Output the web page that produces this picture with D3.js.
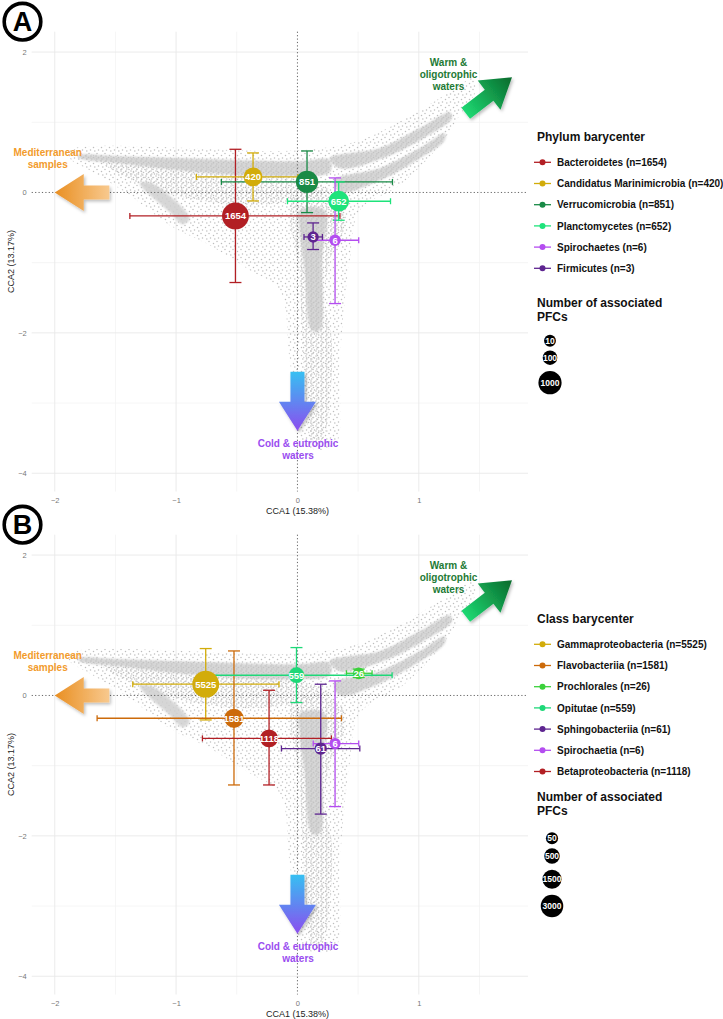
<!DOCTYPE html>
<html><head><meta charset="utf-8">
<script src="https://cdn.jsdelivr.net/npm/d3@7"></script>
<style>
body{margin:0;background:#fff}
svg{display:block;font-family:"Liberation Sans",Arial,Helvetica,sans-serif}
</style>
</head><body>
<svg id="chart" width="723" height="1019"></svg>
<script>
// ---------------- DATA ----------------
const xTicks = [-2, -1, 0, 1];
const xMinor = [-1.5, -0.5, 0.5, 1.5];
const yTicks = [2, 0, -2, -4];
const yMinor = [1, -1, -3];

// Panel A: phylum barycenters
const phylaNames  = ["Bacteroidetes", "Candidatus Marinimicrobia", "Verrucomicrobia", "Planctomycetes", "Spirochaetes", "Firmicutes"];
const phylaCounts = [1654, 420, 851, 652, 6, 3];
const phylaX      = [-0.511, -0.366, 0.079, 0.340, 0.310, 0.129];
const phylaY      = [-0.335, 0.221, 0.150, -0.125, -0.681, -0.634];
const phylaXLow   = [-1.381, -0.833, -0.627, -0.082, 0.130, 0.054];
const phylaXHigh  = [0.350, 0.005, 0.783, 0.767, 0.505, 0.206];
const phylaYLow   = [-1.283, -0.121, -0.287, -0.396, -1.583, -0.813];
const phylaYHigh  = [0.615, 0.563, 0.591, 0.150, 0.207, -0.434];
const phylaColors = ["#B21F24", "#D2AC0A", "#198A46", "#1EE37B", "#B44DF0", "#5E2590"];
const phylaSizeBreaks = [10, 100, 1000];

// Panel B: class barycenters
const classNames  = ["Gammaproteobacteria", "Flavobacteriia", "Prochlorales", "Opitutae", "Sphingobacteriia", "Spirochaetia", "Betaproteobacteria"];
const classCounts = [5525, 1581, 26, 559, 61, 6, 1118];
const classX      = [-0.756, -0.523, 0.505, -0.008, 0.192, 0.310, -0.234];
const classY      = [0.160, -0.325, 0.316, 0.288, -0.757, -0.685, -0.611];
const classXLow   = [-1.357, -1.651, 0.404, -0.720, -0.132, 0.130, -0.783];
const classXHigh  = [-0.152, 0.363, 0.615, 0.780, 0.514, 0.505, 0.280];
const classYLow   = [-0.349, -1.275, 0.255, -0.101, -1.690, -1.583, -1.275];
const classYHigh  = [0.668, 0.634, 0.376, 0.682, 0.160, 0.207, 0.074];
const classColors = ["#D2AC0A", "#CC6A0A", "#3BD13B", "#1ED878", "#5E2590", "#B44DF0", "#B21F24"];
const classSizeBreaks = [50, 500, 1500, 3000];

// Sample cloud outlines (CCA1, CCA2)
const cloudSparse = [[-1.877,0.601],[0.019,0.601],[0.514,0.744],[1.008,1.171],[1.338,1.527],[1.437,1.627],[1.470,1.456],[1.338,1.100],[1.173,0.672],[0.843,0.103],[0.514,-0.254],[0.431,-0.966],[0.390,-1.536],[0.349,-2.390],[0.308,-3.601],[0.060,-3.601],[-0.063,-2.390],[-0.146,-1.393],[-0.393,-1.108],[-0.723,-0.752],[-1.053,-0.467],[-1.382,-0.040],[-1.712,0.316],[-1.877,0.487]];
const cloudMidLeft = [[-1.630,0.459],[-0.805,0.316],[0.019,0.202],[0.266,0.031],[0.019,-0.111],[-0.476,-0.182],[-0.805,-0.111],[-1.218,0.060],[-1.547,0.345]];
const cloudColumn = [[-0.022,-0.040],[0.349,-0.111],[0.390,-0.467],[0.266,-0.966],[0.225,-1.536],[0.283,-2.105],[0.266,-2.960],[0.200,-3.530],[0.118,-3.530],[0.060,-2.675],[0.035,-1.820],[0.002,-0.966],[-0.063,-0.396]];
const cloudUpperBand = [[-1.811,0.530],[-1.465,0.516],[-0.970,0.487],[-0.476,0.459],[0.019,0.444],[0.266,0.459],[0.266,0.288],[-0.063,0.231],[-0.476,0.245],[-0.970,0.316],[-1.465,0.416],[-1.794,0.487]];
const cloudRightBand1 = [[0.266,0.487],[0.679,0.630],[1.008,0.915],[1.256,1.142],[1.272,1.057],[1.049,0.786],[0.720,0.501],[0.349,0.345]];
const cloudRightBand2 = [[0.307,0.174],[0.679,0.345],[1.008,0.630],[1.214,0.843],[1.214,0.744],[1.008,0.487],[0.679,0.174],[0.349,0.003]];
const cloudSpike = [[-1.300,0.131],[-1.201,0.131],[-0.888,-0.368],[-0.945,-0.453],[-1.052,-0.282]];
const cloudCore = [[0.019,-0.254],[0.225,-0.254],[0.200,-0.966],[0.184,-1.963],[0.118,-1.963],[0.060,-1.108],[0.019,-0.538]];

// Annotation arrows: [tailX, tailY, tipX, tipY] in data units, and label anchors
const arrowMed  = [-1.55, 0.0, -2.0, 0.0];
const arrowWarm = [1.387, 1.127, 1.768, 1.640];
const arrowCold = [0.0, -2.553, 0.0, -3.393];
const labelMed  = [-2.058, 0.566, ["Mediterranean", "samples"]];
const labelWarm = [1.245, 1.848, ["Warm &", "oligotrophic", "waters"]];
const labelCold = [0.005, -3.573, ["Cold & eutrophic", "waters"]];

// ---------------- DRAW ----------------
const svg = d3.select("#chart");
svg.append("rect").attr("width", 723).attr("height", 1019).attr("fill", "#fff");
const defs = svg.append("defs");

// dot patterns
const pS = defs.append("pattern").attr("id","dotsSparse").attr("width",8).attr("height",8).attr("patternUnits","userSpaceOnUse");
[[1,1.5],[5.5,3.5],[2.5,6],[6.8,7]].forEach(d => pS.append("circle").attr("cx",d[0]).attr("cy",d[1]).attr("r",0.75).attr("fill","#bdbdbd"));
const pM = defs.append("pattern").attr("id","dotsMid").attr("width",5).attr("height",5).attr("patternUnits","userSpaceOnUse");
[[1,1],[3.5,2.5],[1.8,4]].forEach(d => pM.append("circle").attr("cx",d[0]).attr("cy",d[1]).attr("r",0.8).attr("fill","#c2c2c2"));
defs.append("filter").attr("id","soft").append("feGaussianBlur").attr("stdDeviation",1.2);
const sh = defs.append("filter").attr("id","shadow").attr("x","-30%").attr("y","-30%").attr("width","160%").attr("height","160%");
sh.append("feDropShadow").attr("dx",1.5).attr("dy",2).attr("stdDeviation",1.5).attr("flood-color","#000").attr("flood-opacity",0.25);

function gradient(id, c0, c1, x0, y0, x1, y1) {
  const g = defs.append("linearGradient").attr("id", id).attr("gradientUnits","userSpaceOnUse")
    .attr("x1",x0).attr("y1",y0).attr("x2",x1).attr("y2",y1);
  g.append("stop").attr("offset","0%").attr("stop-color",c0);
  g.append("stop").attr("offset","100%").attr("stop-color",c1);
}

const font = '"Liberation Sans",Arial,Helvetica,sans-serif';

function drawPanel(off, tag, names, counts, X, Y, XL, XH, YL, YH, colors, legendTitle, sizeBreaks, legTop, sizeTop, sizeRowYs) {
  const x = d3.scaleLinear().domain([-2.19, 1.90]).range([31.7, 528]);
  const y = d3.scaleLinear().domain([2.29, -4.26]).range([31.7 + off, 491.5 + off]);
  const g = svg.append("g");

  // grid
  g.selectAll(".minx").data(xMinor).join("line").attr("x1",d=>x(d)).attr("x2",d=>x(d))
    .attr("y1",y.range()[0]).attr("y2",y.range()[1]).attr("stroke","#f3f3f3").attr("stroke-width",0.8);
  g.selectAll(".miny").data(yMinor).join("line").attr("y1",d=>y(d)).attr("y2",d=>y(d))
    .attr("x1",x.range()[0]).attr("x2",x.range()[1]).attr("stroke","#f3f3f3").attr("stroke-width",0.8);
  g.selectAll(".majx").data(xTicks.filter(d=>d!==0)).join("line").attr("x1",d=>x(d)).attr("x2",d=>x(d))
    .attr("y1",y.range()[0]).attr("y2",y.range()[1]).attr("stroke","#e9e9e9").attr("stroke-width",0.9);
  g.selectAll(".majy").data(yTicks.filter(d=>d!==0)).join("line").attr("y1",d=>y(d)).attr("y2",d=>y(d))
    .attr("x1",x.range()[0]).attr("x2",x.range()[1]).attr("stroke","#e9e9e9").attr("stroke-width",0.9);

  // cloud
  const line = d3.line().x(d=>x(d[0])).y(d=>y(d[1])).curve(d3.curveCatmullRomClosed.alpha(0.5));
  g.append("path").attr("d", line(cloudSparse)).attr("fill","url(#dotsSparse)");
  [cloudMidLeft, cloudColumn].forEach(c => g.append("path").attr("d", line(c)).attr("fill","url(#dotsMid)"));
  [cloudUpperBand, cloudRightBand1, cloudRightBand2, cloudSpike, cloudCore].forEach(c =>
    g.append("path").attr("d", line(c)).attr("fill","#d0d0d0").attr("opacity",0.85).attr("filter","url(#soft)"));
  [cloudUpperBand, cloudRightBand1, cloudRightBand2, cloudCore].forEach(c =>
    g.append("path").attr("d", line(c)).attr("fill","url(#dotsMid)"));

  // zero lines
  g.append("line").attr("x1",x(0)).attr("x2",x(0)).attr("y1",y.range()[0]).attr("y2",y.range()[1])
    .attr("stroke","#666").attr("stroke-width",1).attr("stroke-dasharray","1.2,2.2");
  g.append("line").attr("x1",x.range()[0]).attr("x2",x.range()[1]).attr("y1",y(0)).attr("y2",y(0))
    .attr("stroke","#666").attr("stroke-width",1).attr("stroke-dasharray","1.2,2.2");

  // axes
  const ax = g.append("g").attr("transform",`translate(0,${y.range()[1]})`)
    .call(d3.axisBottom(x).tickValues(xTicks).tickSize(0).tickPadding(6).tickFormat(d => d < 0 ? "\u2212" + Math.abs(d) : d));
  ax.select(".domain").remove();
  ax.selectAll("text").attr("font-size",7.5).attr("fill","#777").attr("font-family",font);
  const ay = g.append("g").attr("transform",`translate(${x.range()[0]},0)`)
    .call(d3.axisLeft(y).tickValues(yTicks).tickSize(0).tickPadding(5).tickFormat(d => d < 0 ? "\u2212" + Math.abs(d) : d));
  ay.select(".domain").remove();
  ay.selectAll("text").attr("font-size",7.5).attr("fill","#777").attr("font-family",font);

  g.append("text").attr("x",297.5).attr("y",y.range()[1] + 22).attr("text-anchor","middle")
    .attr("font-size",9).attr("fill","#222").text("CCA1 (15.38%)");
  g.append("text").attr("transform",`translate(14,${(y.range()[0]+y.range()[1])/2}) rotate(-90)`)
    .attr("text-anchor","middle").attr("font-size",9).attr("fill","#222").text("CCA2 (13.17%)");

  // arrows
  function arrow(a, id, c0, c1) {
    const x0 = x(a[0]), y0 = y(a[1]), x1 = x(a[2]), y1 = y(a[3]);
    const L = Math.hypot(x1-x0, y1-y0), ang = Math.atan2(y1-y0, x1-x0) * 180 / Math.PI;
    const hl = 29, hw = 18.5, sw = 7;
    gradient(id, c0, c1, x0, y0, x1, y1);
    const pts = [[0,-sw],[L-hl,-sw],[L-hl,-hw],[L,0],[L-hl,hw],[L-hl,sw],[0,sw]];
    const ga = g.append("g").attr("filter","url(#shadow)");
    ga.append("path").attr("d","M" + pts.map(p => {
        const r = Math.atan2(y1-y0, x1-x0);
        return [x0 + p[0]*Math.cos(r) - p[1]*Math.sin(r), y0 + p[0]*Math.sin(r) + p[1]*Math.cos(r)].join(",");
      }).join("L") + "Z").attr("fill",`url(#${id})`);
  }
  arrow(arrowMed, "gMed"+tag, "#F8C98E", "#E98F22");
  arrow(arrowWarm, "gWarm"+tag, "#1DD872", "#0A6A2C");
  arrow(arrowCold, "gCold"+tag, "#36C0F2", "#8B4DEF");

  function label(l, color) {
    l[2].forEach((t, i) => g.append("text").attr("x", x(l[0])).attr("y", y(l[1]) + 3.6 + i * 11.7)
      .attr("text-anchor","middle").attr("font-size",10).attr("font-weight","bold").attr("fill",color).text(t));
  }
  label(labelMed, "#F29B2C");
  label(labelWarm, "#1D7A35");
  label(labelCold, "#9A4DF0");

  // size scale
  const maxC = d3.max(counts);
  const r = d3.scaleSqrt().domain([0, maxC]).range([5.3, 13.4]);

  // error bars
  const idx = d3.range(names.length);
  const eb = g.append("g").attr("stroke-width",1.3).attr("fill","none");
  idx.forEach(i => {
    const c = colors[i];
    eb.append("line").attr("x1",x(X[i])).attr("x2",x(X[i])).attr("y1",y(YL[i])).attr("y2",y(YH[i])).attr("stroke",c);
    [YL[i], YH[i]].forEach(v => eb.append("line").attr("x1",x(X[i])-6).attr("x2",x(X[i])+6).attr("y1",y(v)).attr("y2",y(v)).attr("stroke",c));
    eb.append("line").attr("y1",y(Y[i])).attr("y2",y(Y[i])).attr("x1",x(XL[i])).attr("x2",x(XH[i])).attr("stroke",c);
    [XL[i], XH[i]].forEach(v => eb.append("line").attr("y1",y(Y[i])-3).attr("y2",y(Y[i])+3).attr("x1",x(v)).attr("x2",x(v)).attr("stroke",c));
  });
  // bubbles (big first)
  const order = idx.slice().sort((a, b) => counts[b] - counts[a]);
  const bub = g.selectAll(".bub").data(order).join("g").attr("transform", i => `translate(${x(X[i])},${y(Y[i])})`);
  bub.append("circle").attr("r", i => r(counts[i])).attr("fill", i => colors[i]);
  bub.append("text").attr("text-anchor","middle").attr("dy","0.35em").attr("font-size",9.5).attr("font-weight","bold")
    .attr("fill","#fff").text(i => counts[i]);

  // legend
  const lg = g.append("g");
  lg.append("text").attr("x",537).attr("y",legTop + 4.3).attr("font-size",12).attr("font-weight","bold").attr("fill","#111").text(legendTitle);
  idx.forEach(i => {
    const yy = legTop + 25.6 + i * 21.2;
    lg.append("line").attr("x1",534).attr("x2",551).attr("y1",yy).attr("y2",yy).attr("stroke",colors[i]).attr("stroke-width",1.3);
    lg.append("circle").attr("cx",542.5).attr("cy",yy).attr("r",3).attr("fill",colors[i]);
    lg.append("text").attr("x",557).attr("y",yy + 3.6).attr("font-size",10).attr("font-weight","bold").attr("fill","#111")
      .text(`${names[i]} (n=${counts[i]})`);
  });
  lg.append("text").attr("x",537).attr("y",sizeTop + 4.3).attr("font-size",12).attr("font-weight","bold").attr("fill","#111").text("Number of associated");
  lg.append("text").attr("x",537).attr("y",sizeTop + 18.3).attr("font-size",12).attr("font-weight","bold").attr("fill","#111").text("PFCs");
  sizeBreaks.forEach((v, k) => {
    const gg = lg.append("g").attr("transform",`translate(${tag==="A"?550:552},${sizeRowYs[k]})`);
    gg.append("circle").attr("r", r(v)).attr("fill","#000");
    gg.append("text").attr("text-anchor","middle").attr("dy","0.35em").attr("font-size",8.5).attr("font-weight","bold").attr("fill","#fff").text(v);
  });

  // panel tag
  const tg = g.append("g").attr("transform",`translate(22.5,${21.7 + off})`);
  tg.append("circle").attr("r",18.3).attr("fill","#fff").attr("stroke","#000").attr("stroke-width",3.6);
  tg.append("text").attr("text-anchor","middle").attr("dy","0.36em").attr("font-size",27).attr("font-weight","bold").attr("fill","#000").text(tag);
}

drawPanel(0, "A", phylaNames, phylaCounts, phylaX, phylaY, phylaXLow, phylaXHigh, phylaYLow, phylaYHigh, phylaColors,
  "Phylum barycenter", phylaSizeBreaks, 136.7, 302.7, [340.7, 357.7, 382.7]);
drawPanel(503, "B", classNames, classCounts, classX, classY, classXLow, classXHigh, classYLow, classYHigh, classColors,
  "Class barycenter", classSizeBreaks, 618.7, 796.7, [838.3, 856, 879.3, 906]);
</script>
</body></html>
